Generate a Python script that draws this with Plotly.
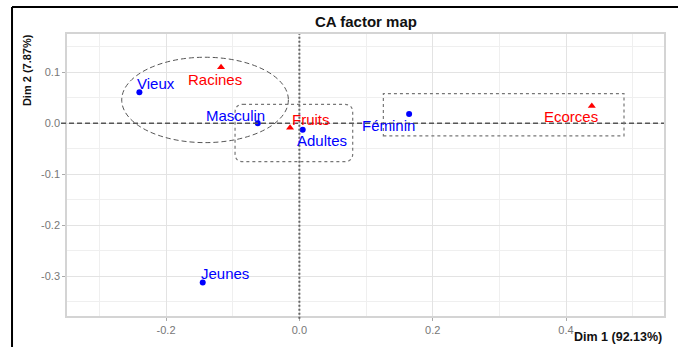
import plotly.graph_objects as go

# Correspondence analysis coordinates (Dim 1, Dim 2)
row_labels = ["Racines", "Fruits", "Ecorces"]
row_dim1 = [-0.1175, -0.014, 0.4387]
row_dim2 = [0.110, -0.0086, 0.034]

col_labels = ["Vieux", "Masculin", "Adultes", "Féminin", "Jeunes"]
col_dim1 = [-0.240, -0.0624, 0.005, 0.1646, -0.145]
col_dim2 = [0.0608, 0.0, -0.013, 0.018, -0.3125]

x_ticks = [-0.2, 0.0, 0.2, 0.4]
x_tick_text = ["-0.2", "0.0", "0.2", "0.4"]
y_ticks = [0.1, 0.0, -0.1, -0.2, -0.3]
y_tick_text = ["0.1", "0.0", "-0.1", "-0.2", "-0.3"]

# label placement (pixel shifts from each point)
label_shift = {
    "Racines": (-6, -12), "Fruits": (21, 8), "Ecorces": (-21, -11),
    "Vieux": (17, 9), "Masculin": (-22, 8), "Adultes": (19, -11),
    "Féminin": (-21, -11), "Jeunes": (22, 9),
}

FONT = "Liberation Sans"
ROW_COLOR = "#ff0000"
COL_COLOR = "#0000ff"

fig = go.Figure()
fig.add_trace(go.Scatter(
    x=col_dim1, y=col_dim2, mode="markers",
    marker=dict(symbol="circle", size=6, color=COL_COLOR),
    hoverinfo="text", text=col_labels, showlegend=False))
fig.add_trace(go.Scatter(
    x=row_dim1, y=row_dim2, mode="markers",
    marker=dict(symbol="triangle-up", size=7, color=ROW_COLOR),
    hoverinfo="text", text=row_labels, showlegend=False))

annotations = []
for labels, xs, ys, color in ((row_labels, row_dim1, row_dim2, ROW_COLOR),
                              (col_labels, col_dim1, col_dim2, COL_COLOR)):
    for lab, xv, yv in zip(labels, xs, ys):
        dx, dy = label_shift[lab]
        annotations.append(dict(
            x=xv, y=yv, xref="x", yref="y", text=lab, showarrow=False,
            xshift=dx, yshift=dy,
            font=dict(family=FONT, size=15, color=color)))

# titles
annotations.append(dict(text="<b>CA factor map</b>", xref="paper", yref="paper",
                        x=0.5, y=1.046, showarrow=False, yanchor="middle",
                        font=dict(family=FONT, size=15, color="#111")))
annotations.append(dict(text="<b>Dim 1 (92.13%)</b>", xref="paper", yref="paper",
                        x=1.0, y=-0.105, xanchor="right", yanchor="bottom",
                        showarrow=False, font=dict(family=FONT, size=12.5, color="#111")))
annotations.append(dict(text="<b>Dim 2 (7.87%)</b>", xref="paper", yref="paper",
                        x=-0.067, y=0.872, textangle=-90, xanchor="center",
                        yanchor="middle", showarrow=False,
                        font=dict(family=FONT, size=11, color="#111")))

shapes = [
    # reference axes through the origin
    dict(type="line", xref="paper", yref="y", x0=-0.01, x1=1, y0=0, y1=0,
         line=dict(color="#555", width=1.5, dash="5px,3px"), layer="above"),
    dict(type="line", xref="x", yref="paper", x0=0, x1=0, y0=-0.01, y1=1,
         line=dict(color="#666", width=2, dash="2px,2px"), layer="above"),
    # ellipse around the older/root group
    dict(type="circle", xref="x", yref="y", x0=-0.2665, x1=-0.0165,
         y0=-0.038, y1=0.1294, line=dict(color="#555", width=1, dash="5px,3px")),
    # group around Féminin / Ecorces
    dict(type="rect", xref="x", yref="y", x0=0.126, x1=0.487,
         y0=-0.0249, y1=0.058, line=dict(color="#777", width=1.2, dash="dot")),
]

# rounded box around the central group
bx0, bx1, by0, by1 = -0.0965, 0.080, -0.0753, 0.037
rx, ry = 0.012, 0.016
path = (f"M {bx0+rx},{by1} L {bx1-rx},{by1} Q {bx1},{by1} {bx1},{by1-ry} "
        f"L {bx1},{by0+ry} Q {bx1},{by0} {bx1-rx},{by0} "
        f"L {bx0+rx},{by0} Q {bx0},{by0} {bx0},{by0+ry} "
        f"L {bx0},{by1-ry} Q {bx0},{by1} {bx0+rx},{by1} Z")
shapes.append(dict(type="path", xref="x", yref="y", path=path,
                   line=dict(color="#777", width=1.2, dash="dot")))

# outer frame (left and top edges)
shapes.append(dict(type="line", xref="paper", yref="paper", x0=-0.0921, x1=-0.0921,
                   y0=1.0957, y1=-0.2, line=dict(color="#000", width=2)))
shapes.append(dict(type="line", xref="paper", yref="paper", x0=-0.0921, x1=1.05,
                   y0=1.0957, y1=1.0957, line=dict(color="#000", width=2)))

grid_major = "#e3e3e3"
grid_minor = "#efefef"
tick_font = dict(family=FONT, size=11, color="#777")

fig.update_layout(
    width=678, height=347,
    margin=dict(l=67, r=14, t=34, b=31),
    paper_bgcolor="white", plot_bgcolor="white",
    annotations=annotations, shapes=shapes,
    xaxis=dict(range=[-0.3486, 0.547], tickvals=x_ticks, ticktext=x_tick_text,
               showgrid=True, gridcolor=grid_major, gridwidth=1.3,
               zeroline=False, showline=True, mirror=True,
               linecolor="#d4d4d4", linewidth=1.5,
               ticks="outside", ticklen=3, tickcolor="#aaa", tickfont=tick_font,
               minor=dict(tickvals=[-0.3, -0.1, 0.1, 0.3, 0.5], showgrid=True,
                          gridcolor=grid_minor, gridwidth=1, ticklen=0)),
    yaxis=dict(range=[-0.378, 0.175], tickvals=y_ticks, ticktext=y_tick_text,
               showgrid=True, gridcolor=grid_major, gridwidth=1.3,
               zeroline=False, showline=True, mirror=True,
               linecolor="#d4d4d4", linewidth=1.5,
               ticks="outside", ticklen=3, tickcolor="#aaa", tickfont=tick_font,
               minor=dict(tickvals=[0.15, 0.05, -0.05, -0.15, -0.25, -0.35],
                          showgrid=True, gridcolor=grid_minor, gridwidth=1,
                          ticklen=0)),
)

fig.write_html("out.html")
